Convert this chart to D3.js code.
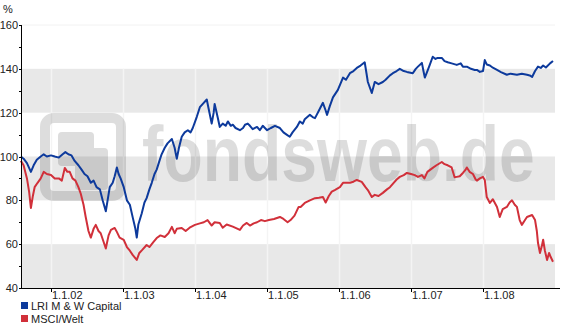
<!DOCTYPE html>
<html lang="de">
<head>
<meta charset="UTF-8">
<title>LRI M & W Capital vs MSCI/Welt</title>
<script src="https://d3js.org/d3.v7.min.js"></script>
<style>
  body {
    margin: 0;
    background-color: #ffffff;
    font-family: "Liberation Sans", Arial, sans-serif;
  }
  .tick-label {
    font-size: 11px;
    fill: #222;
  }
  .legend-label {
    font-size: 11px;
    fill: #222;
  }
</style>
</head>
<body>
<svg id="chart"></svg>

<script>
// data
var seriesNames = ["LRI M & W Capital", "MSCI/Welt"];
var seriesColors = ["#0d3a9c", "#d1303a"];

var yTicks = [40, 60, 80, 100, 120, 140, 160];
var yMinorTicks = [50, 70, 90, 110, 130, 150];
var bandRanges = [[40, 60], [80, 100], [120, 140]];
var xTickLabels = ["1.1.02", "1.1.03", "1.1.04", "1.1.05", "1.1.06", "1.1.07", "1.1.08"];
var xTickDates = ["2002-01-01", "2003-01-01", "2004-01-01", "2005-01-01", "2006-01-01", "2007-01-01", "2008-01-01"];

var blueDates = [
  "2001-08-01","2001-08-15","2001-09-01","2001-09-21","2001-10-05","2001-10-21","2001-11-10","2001-11-25","2001-12-11",
  "2002-01-01","2002-01-20","2002-02-10","2002-03-01","2002-03-15","2002-03-30","2002-04-15","2002-05-01","2002-05-20",
  "2002-06-05","2002-06-20","2002-07-05","2002-07-22","2002-08-05","2002-08-20","2002-09-06","2002-09-20","2002-10-06",
  "2002-10-15","2002-10-26","2002-11-10","2002-11-20","2002-12-01","2002-12-10","2002-12-20",
  "2003-01-05","2003-01-21","2003-02-05","2003-02-20","2003-03-05","2003-03-12","2003-03-20","2003-04-06","2003-04-20",
  "2003-05-01","2003-05-15","2003-05-27","2003-06-10","2003-06-21","2003-07-05","2003-07-16","2003-08-01","2003-08-15",
  "2003-09-06","2003-09-20","2003-10-01","2003-10-12","2003-10-26","2003-11-10","2003-11-26","2003-12-10","2003-12-21",
  "2004-01-10","2004-01-26","2004-02-10","2004-03-01","2004-03-10","2004-03-26","2004-04-05","2004-04-10","2004-04-25",
  "2004-05-06","2004-05-21","2004-06-05","2004-06-16","2004-07-01","2004-07-11","2004-07-25","2004-08-16","2004-09-01",
  "2004-09-11","2004-09-25","2004-10-06","2004-10-20","2004-11-11","2004-11-25","2004-12-10",
  "2005-01-01","2005-01-20","2005-02-10","2005-03-07","2005-03-25","2005-04-10","2005-04-26","2005-05-10","2005-06-01",
  "2005-06-16","2005-07-01","2005-07-11","2005-08-06","2005-08-20","2005-09-01","2005-09-21","2005-10-11","2005-10-25",
  "2005-11-01","2005-11-15","2005-12-01","2005-12-26",
  "2006-01-21","2006-02-05","2006-02-25","2006-03-15","2006-04-01","2006-04-20","2006-05-11","2006-05-20","2006-05-27",
  "2006-06-16","2006-07-01","2006-07-20","2006-08-11","2006-08-25","2006-09-16","2006-10-01","2006-10-20","2006-11-05",
  "2006-11-25","2006-12-11",
  "2007-01-10","2007-01-25","2007-02-05","2007-02-25","2007-03-05","2007-03-12","2007-03-25","2007-04-06","2007-04-21",
  "2007-05-05","2007-05-16","2007-06-06","2007-06-20","2007-07-06","2007-07-26","2007-08-21","2007-09-10","2007-09-21",
  "2007-10-11","2007-11-01","2007-11-20","2007-12-01","2007-12-16",
  "2008-01-01","2008-01-10","2008-01-20","2008-02-05","2008-02-20","2008-03-12","2008-04-01","2008-05-01","2008-05-20",
  "2008-06-21","2008-07-16","2008-08-11","2008-08-25","2008-09-06","2008-09-21","2008-10-06","2008-10-20","2008-11-01",
  "2008-11-15","2008-12-06","2008-12-21"
];
var blueValues = [
  100, 99, 97, 93, 96, 98.5, 100, 101, 100,
  100.5, 100, 99.5, 101, 102, 101, 100.5, 98, 96,
  94, 92, 91, 88, 89, 86, 85, 80, 75,
  80, 86, 88, 91, 95, 92, 90,
  86, 80, 78, 72, 67, 63, 69, 74, 79,
  81, 85, 88, 92, 94, 98, 101, 104, 106,
  108, 104, 99, 104, 109, 111, 112, 111, 113,
  118, 122.5, 124, 126, 122, 115, 120, 124, 118,
  113.5, 115, 114, 116, 114, 114.5, 113, 112, 113,
  114.5, 115, 114, 112.5, 113.5, 112, 114,
  112, 113, 114, 113, 111, 110, 109, 111, 113.5,
  116, 115, 117, 119, 118, 117.5, 121, 124.5, 121,
  119, 123, 127, 130.4,
  136, 135, 138, 139, 140.4, 141.5, 143, 138, 134,
  129, 134, 133, 134, 135, 137, 138, 139, 140,
  139, 138.6,
  138, 140, 141, 142.7, 139, 136, 139, 141.8, 145.5,
  144.5, 145, 145, 143.5, 143, 142.5, 141.8, 142.5, 141,
  141, 140, 139.5, 139.5, 138.6,
  139, 144, 142, 141.5, 140.5, 139.5, 138.5, 137.3, 137.8,
  137.3, 137.8, 137.3, 137, 136.3, 139, 141, 140.4, 141.5,
  140.6, 142.5, 143.6
];

var redDates = [
  "2001-08-01","2001-08-15","2001-09-01","2001-09-12","2001-09-21","2001-10-01","2001-10-10","2001-10-25","2001-11-10",
  "2001-11-25","2001-12-11",
  "2002-01-01","2002-01-20","2002-02-10","2002-02-25","2002-03-12","2002-03-25","2002-04-06","2002-04-20","2002-05-05",
  "2002-05-20","2002-06-01","2002-06-15","2002-06-26","2002-07-10","2002-07-22","2002-08-05","2002-08-16","2002-08-30",
  "2002-09-10","2002-09-25","2002-10-06","2002-10-20","2002-11-01","2002-11-20","2002-12-01","2002-12-15",
  "2003-01-05","2003-01-21","2003-02-05","2003-02-20","2003-03-12","2003-03-25","2003-04-10","2003-05-01","2003-05-15",
  "2003-06-05","2003-06-21","2003-07-10","2003-08-01","2003-08-20","2003-09-06","2003-09-20","2003-10-01","2003-10-26",
  "2003-11-15","2003-12-05",
  "2004-01-01","2004-01-26","2004-02-15","2004-03-05","2004-03-26","2004-04-10","2004-05-06","2004-05-21","2004-06-10",
  "2004-07-11","2004-08-16","2004-09-01","2004-09-20","2004-10-06","2004-10-25","2004-11-11","2004-12-01","2004-12-21",
  "2005-01-10","2005-02-05","2005-03-07","2005-03-25","2005-04-15","2005-04-30","2005-05-20","2005-06-10","2005-06-20",
  "2005-07-11","2005-08-06","2005-09-01","2005-09-21","2005-10-11","2005-10-25","2005-11-10","2005-11-25","2005-12-10",
  "2006-01-05","2006-01-21","2006-02-25","2006-03-15","2006-04-01","2006-04-26","2006-05-15","2006-05-27","2006-06-16",
  "2006-07-01","2006-07-20","2006-08-11","2006-09-01","2006-09-16","2006-10-05","2006-10-20","2006-11-05","2006-11-25",
  "2006-12-11",
  "2007-01-01","2007-01-20","2007-02-05","2007-02-25","2007-03-10","2007-03-25","2007-04-21","2007-05-10","2007-06-06",
  "2007-06-20","2007-07-06","2007-07-26","2007-08-10","2007-08-21","2007-09-05","2007-09-21","2007-10-05","2007-10-11",
  "2007-10-25","2007-11-11","2007-11-25","2007-12-01","2007-12-16",
  "2008-01-01","2008-01-10","2008-01-20","2008-02-05","2008-02-20","2008-03-12","2008-03-26","2008-04-10","2008-05-01",
  "2008-05-15","2008-05-27","2008-06-10","2008-06-21","2008-07-05","2008-07-16","2008-08-01","2008-08-11","2008-09-06",
  "2008-09-21","2008-09-30","2008-10-06","2008-10-16","2008-10-25","2008-11-01","2008-11-10","2008-11-21","2008-12-01",
  "2008-12-10","2008-12-21"
];
var redValues = [
  98, 96, 90, 84, 76.5, 82, 86, 88, 90,
  93, 92,
  91.6, 90, 90, 89, 94.8, 93, 93, 90, 89,
  86, 83, 78, 72.4, 66, 63, 67, 68.8, 66,
  65, 61, 58, 64, 66.5, 67.4, 65.6, 63,
  62, 58.7, 57, 55, 52.8, 56, 57.5, 59.6, 58.7,
  61, 62.8, 64, 63.3, 65, 67.9, 65, 67, 67.4,
  66, 67.5,
  68.8, 69.5, 70, 71, 68.5, 70, 69.7, 67.5, 69,
  68, 66.5, 68.5, 69.7, 68.5, 69.5, 70, 71, 70.5,
  71, 71.5, 72.4, 71.5, 70, 71, 73, 77, 77,
  78.8, 80, 81, 81.2, 81.5, 79, 82, 84, 84.7,
  86, 88, 88, 88.5, 89.3, 88.4, 86, 84.7, 81.5,
  82.5, 82, 83.4, 85, 86, 88, 89.5, 90.7, 91.5,
  92.5,
  92, 91.5, 90.7, 91.5, 90, 93, 94.8, 96, 97.5,
  96.5, 96, 95, 90.5, 90.7, 91, 92.5, 94, 95,
  93, 92, 89.5, 89, 90,
  90.7, 89.3, 81.5, 78.8, 80.5, 77, 72.4, 76, 77,
  79, 80, 78, 77, 71, 68.8, 71, 72.4, 73.3,
  71, 66, 60.5, 56, 59, 62, 57, 52.8, 56,
  54, 52
];

// svg size
var svgWidth = 566;
var svgHeight = 327;

var svg = d3.select("#chart")
  .attr("width", svgWidth)
  .attr("height", svgHeight);

var parseDate = d3.timeParse("%Y-%m-%d");

// scales
var xScale = d3.scaleTime()
  .domain([parseDate("2002-01-01"), parseDate("2008-01-01")])
  .range([51, 483]);

var yScale = d3.scaleLinear()
  .domain([40, 160])
  .range([288, 25]);

var plotLeft = 21;
var plotRight = 555;

// gray bands
svg.selectAll("rect.band")
  .data(bandRanges)
  .enter()
  .append("rect")
  .attr("class", "band")
  .attr("x", plotLeft)
  .attr("y", d => yScale(d[1]))
  .attr("width", plotRight - plotLeft)
  .attr("height", d => yScale(d[0]) - yScale(d[1]))
  .attr("fill", "#e8e8e8");

// faint top line
svg.append("line")
  .attr("x1", plotLeft).attr("x2", plotRight)
  .attr("y1", yScale(160)).attr("y2", yScale(160))
  .attr("stroke", "#f2f2f2");

// vertical grid lines
svg.selectAll("line.vgrid")
  .data(xTickDates)
  .enter()
  .append("line")
  .attr("class", "vgrid")
  .attr("x1", d => Math.round(xScale(parseDate(d))) + 0.5)
  .attr("x2", d => Math.round(xScale(parseDate(d))) + 0.5)
  .attr("y1", yScale(140))
  .attr("y2", yScale(40))
  .attr("stroke", "#f4f4f4")
  .attr("stroke-width", 1.5);

// watermark (logo + fondsweb.de)
var wm = svg.append("g").attr("opacity", 0.13);
wm.append("rect")
  .attr("x", 45).attr("y", 118).attr("width", 76).attr("height", 78)
  .attr("rx", 9)
  .attr("fill", "none").attr("stroke", "#000").attr("stroke-width", 10);
wm.append("rect")
  .attr("x", 58).attr("y", 132).attr("width", 36).attr("height", 34)
  .attr("rx", 4).attr("fill", "#000");
wm.append("rect")
  .attr("x", 75).attr("y", 148).attr("width", 33).attr("height", 42)
  .attr("rx", 4).attr("fill", "#000");
wm.append("text")
  .attr("transform", "translate(142,181) scale(0.835,1)")
  .style("font-family", "'Liberation Sans', Arial, sans-serif")
  .style("font-weight", "bold")
  .style("font-size", "77px")
  .attr("fill", "#000")
  .text("fondsweb.de");

// lines
var blueData = blueDates.map((d, i) => ({ date: parseDate(d), value: blueValues[i] }));
var redData = redDates.map((d, i) => ({ date: parseDate(d), value: redValues[i] }));

var line = d3.line()
  .x(d => xScale(d.date))
  .y(d => yScale(d.value));

svg.append("path")
  .datum(redData)
  .attr("d", line)
  .attr("fill", "none")
  .attr("stroke", seriesColors[1])
  .attr("stroke-width", 2)
  .attr("stroke-linejoin", "round");

svg.append("path")
  .datum(blueData)
  .attr("d", line)
  .attr("fill", "none")
  .attr("stroke", seriesColors[0])
  .attr("stroke-width", 2)
  .attr("stroke-linejoin", "round");

// y axis
svg.append("line")
  .attr("x1", plotLeft + 0.5).attr("x2", plotLeft + 0.5)
  .attr("y1", yScale(160)).attr("y2", yScale(40))
  .attr("stroke", "#000");

svg.selectAll("line.ytick")
  .data(yTicks.concat(yMinorTicks))
  .enter()
  .append("line")
  .attr("class", "ytick")
  .attr("x1", plotLeft - 2).attr("x2", plotLeft + 1)
  .attr("y1", d => Math.round(yScale(d)) + 0.5)
  .attr("y2", d => Math.round(yScale(d)) + 0.5)
  .attr("stroke", "#000");

svg.selectAll("text.ylabel")
  .data(yTicks)
  .enter()
  .append("text")
  .attr("class", "tick-label ylabel")
  .attr("x", 18)
  .attr("y", d => yScale(d) + 4)
  .attr("text-anchor", "end")
  .text(d => d);

svg.append("text")
  .attr("class", "tick-label")
  .attr("x", 3)
  .attr("y", 13)
  .text("%");

// x axis
svg.append("line")
  .attr("x1", plotLeft).attr("x2", 560)
  .attr("y1", 288.5).attr("y2", 288.5)
  .attr("stroke", "#000");

svg.selectAll("line.xtick")
  .data(xTickDates)
  .enter()
  .append("line")
  .attr("class", "xtick")
  .attr("x1", d => Math.round(xScale(parseDate(d))) + 0.5)
  .attr("x2", d => Math.round(xScale(parseDate(d))) + 0.5)
  .attr("y1", 288)
  .attr("y2", 292)
  .attr("stroke", "#000");

svg.selectAll("text.xlabel")
  .data(xTickLabels)
  .enter()
  .append("text")
  .attr("class", "tick-label xlabel")
  .attr("x", (d, i) => xScale(parseDate(xTickDates[i])) + 1)
  .attr("y", 299)
  .text(d => d);

// legend
svg.selectAll("rect.legend")
  .data(seriesNames)
  .enter()
  .append("rect")
  .attr("class", "legend")
  .attr("x", 21)
  .attr("y", (d, i) => 302 + i * 13)
  .attr("width", 7)
  .attr("height", 7)
  .attr("fill", (d, i) => seriesColors[i]);

svg.selectAll("text.legend-label")
  .data(seriesNames)
  .enter()
  .append("text")
  .attr("class", "legend-label")
  .attr("x", 31)
  .attr("y", (d, i) => 310 + i * 13)
  .text(d => d);
</script>
</body>
</html>
